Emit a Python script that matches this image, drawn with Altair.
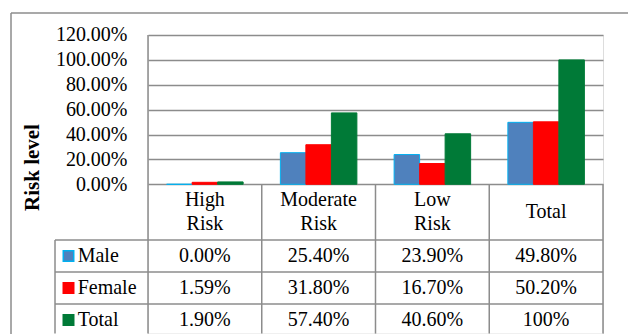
import altair as alt
import pandas as pd

# ---------------- data ----------------
categories = ["High Risk", "Moderate Risk", "Low Risk", "Total"]
header_lines = [["High", "Risk"], ["Moderate", "Risk"], ["Low", "Risk"], ["Total"]]
series = ["Male", "Female", "Total"]
male = [0.0, 0.254, 0.239, 0.498]
female = [0.0159, 0.318, 0.167, 0.502]
total = [0.019, 0.574, 0.406, 1.0]
male_lbl = ["0.00%", "25.40%", "23.90%", "49.80%"]
female_lbl = ["1.59%", "31.80%", "16.70%", "50.20%"]
total_lbl = ["1.90%", "57.40%", "40.60%", "100%"]
y_ticks = [0.0, 0.2, 0.4, 0.6, 0.8, 1.0, 1.2]

fill_colors = ["#4F81BD", "#FF0000", "#007A37"]
stroke_colors = ["#00B0F0", "#FF0000", "#007A37"]

# ---------------- layout constants ----------------
W, H = 455, 298.6
Y_MIN, Y_MAX = -1.2, 1.2
PX = H / (Y_MAX - Y_MIN)          # pixels per y unit
COL_PX = W / len(categories)      # pixels per column
HEADER_H = 55.7 / PX
ROW_H = 32.0 / PX
LINE_H = 24.3 / PX
LEG_W = 93.0 / COL_PX             # legend column width in column units
GRID = "#8C8C8C"
FONT = "Liberation Serif"
FS = 20

# ---------------- tables ----------------
vals = [male, female, total]
bars = pd.DataFrame(
    [{"category": c, "series": s, "value": vals[j][i]}
     for j, s in enumerate(series) for i, c in enumerate(categories)]
)

lbls = [male_lbl, female_lbl, total_lbl]
cells = pd.DataFrame(
    [{"x": i + 0.5, "y": -(HEADER_H + (r + 0.5) * ROW_H), "label": lbls[r][i]}
     for r in range(len(series)) for i in range(len(categories))]
)
headers = pd.DataFrame(
    [{"x": i + 0.5,
      "y": -HEADER_H / 2 + ((len(h) - 1) / 2 - k) * LINE_H,
      "label": line}
     for i, h in enumerate(header_lines) for k, line in enumerate(h)]
)
legend_rows = pd.DataFrame(
    [{"x": -LEG_W, "y": -(HEADER_H + (r + 0.5) * ROW_H), "series": s}
     for r, s in enumerate(series)]
)
bottom = Y_MIN
hlines = pd.DataFrame(
    [{"x": -LEG_W, "x2": len(categories), "y": -(HEADER_H + r * ROW_H)}
     for r in range(len(series))]
)
vlines = pd.DataFrame(
    [{"x": 0, "y": Y_MAX, "y2": bottom}]
    + [{"x": i, "y": 0, "y2": bottom} for i in range(1, len(categories) + 1)]
    + [{"x": -LEG_W, "y": -HEADER_H, "y2": bottom}]
)

yscale = alt.Scale(domain=[Y_MIN, Y_MAX], nice=False, zero=False)
xscale = alt.Scale(domain=[0, len(categories)], nice=False, zero=False)
y_axis = alt.Axis(values=y_ticks, format=".2%", grid=True, gridColor=GRID,
                  gridWidth=1.5, domain=False, ticks=False, tickSize=0,
                  labelPadding=21, labelFont=FONT, labelFontSize=FS,
                  labelColor="black", title="Risk level", titleFont=FONT,
                  titleFontSize=21, titleFontWeight="bold", titleColor="black",
                  titleAngle=-90, titleX=-116, titleY=132,
                  titleAlign="center", titleBaseline="middle")

fill_scale = alt.Scale(domain=series, range=fill_colors)
stroke_scale = alt.Scale(domain=series, range=stroke_colors)


def Y(field):
    return alt.Y(field, scale=yscale, axis=y_axis)


bar_layer = alt.Chart(bars).mark_bar(strokeWidth=1).encode(
    x=alt.X("category:N", sort=categories, axis=None,
            scale=alt.Scale(paddingInner=0, paddingOuter=0)),
    xOffset=alt.XOffset("series:N", sort=series,
                        scale=alt.Scale(paddingInner=0, paddingOuter=0.73)),
    y=Y("value:Q"),
    fill=alt.Fill("series:N", scale=fill_scale, legend=None),
    stroke=alt.Stroke("series:N", scale=stroke_scale, legend=None),
)

vrule = alt.Chart(vlines).mark_rule(color=GRID, strokeWidth=1.5).encode(
    x=alt.X("x:Q", scale=xscale, axis=None),
    y=Y("y:Q"),
    y2="y2:Q",
)
hrule = alt.Chart(hlines).mark_rule(color=GRID, strokeWidth=1.5).encode(
    x=alt.X("x:Q", scale=xscale, axis=None),
    x2="x2:Q",
    y=Y("y:Q"),
)
header_text = alt.Chart(headers).mark_text(
    font=FONT, fontSize=FS, color="black", align="center", baseline="middle"
).encode(
    x=alt.X("x:Q", scale=xscale, axis=None),
    y=Y("y:Q"),
    text="label:N",
)
cell_text = alt.Chart(cells).mark_text(
    font=FONT, fontSize=FS, color="black", align="center", baseline="middle"
).encode(
    x=alt.X("x:Q", scale=xscale, axis=None),
    y=Y("y:Q"),
    text="label:N",
)
legend_sw = alt.Chart(legend_rows).mark_square(
    size=110, xOffset=13.5, strokeWidth=1.5, opacity=1
).encode(
    x=alt.X("x:Q", scale=xscale, axis=None),
    y=Y("y:Q"),
    fill=alt.Fill("series:N", scale=fill_scale, legend=None),
    stroke=alt.Stroke("series:N", scale=stroke_scale, legend=None),
)
legend_txt = alt.Chart(legend_rows).mark_text(
    font=FONT, fontSize=FS, color="black", align="left", baseline="middle", dx=22.7
).encode(
    x=alt.X("x:Q", scale=xscale, axis=None),
    y=Y("y:Q"),
    text="series:N",
)
frame = pd.DataFrame({"a": [0]})
border_top = alt.Chart(frame).mark_rule(color=GRID, strokeWidth=1.5).encode(
    x=alt.value(-137), x2=alt.value(480), y=alt.value(-22)
)
border_left = alt.Chart(frame).mark_rule(color=GRID, strokeWidth=1.5).encode(
    x=alt.value(-137), y=alt.value(-22), y2=alt.value(H + 5)
)

chart = alt.layer(
    bar_layer, vrule, hrule, header_text, cell_text, legend_sw, legend_txt,
    border_top, border_left
).resolve_scale(x="independent").properties(
    width=W, height=H, autosize="none",
    padding={"left": 148, "top": 35, "right": 25, "bottom": 0},
).configure_view(stroke=None).configure(background="white")

chart.save("out.html", embed_options={"renderer": "svg", "actions": False})
